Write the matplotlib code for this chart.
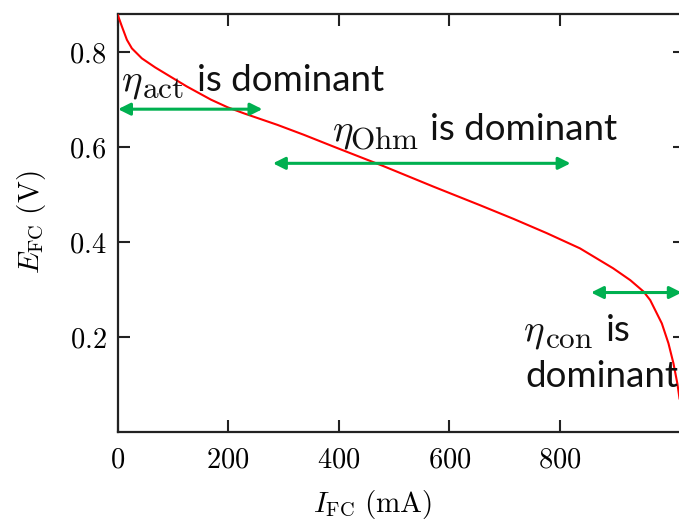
import matplotlib
matplotlib.use("Agg")
import matplotlib.pyplot as plt
from matplotlib.ticker import FuncFormatter

plt.rcParams['mathtext.fontset'] = 'cm'

# Polarization curve
current_mA = [0, 8, 17, 26, 44, 68, 95, 125, 169, 199, 229, 259, 289, 337, 391,
              481, 571, 655, 716, 776, 836, 896, 927, 951, 963, 969, 984, 996,
              1005, 1012, 1016]
voltage_V = [0.879, 0.853, 0.825, 0.807, 0.786, 0.767, 0.748, 0.727, 0.699, 0.683,
             0.670, 0.658, 0.646, 0.625, 0.600, 0.559, 0.516, 0.477, 0.448, 0.418,
             0.386, 0.344, 0.319, 0.295, 0.277, 0.263, 0.228, 0.186, 0.144, 0.102,
             0.070]

# Region arrows: (start current, end current, voltage)
arrow_act = (1, 262, 0.679)
arrow_ohm = (281, 819, 0.565)
arrow_con = (856, 1020, 0.293)

# Region labels: subscript, sentence text
region_subs = ['act', 'Ohm', 'con']
region_text = ['is dominant', 'is dominant', 'is']

x_ticks = [0, 200, 400, 600, 800]
y_ticks = [0.2, 0.4, 0.6, 0.8]

fig = plt.figure(figsize=(6.79, 5.27), dpi=100)
ax = fig.add_axes([117.5/679, (527-431.7)/527, 567/679, 418/527])

ax.plot(current_mA, voltage_V, color='#ff0000', lw=1.5, zorder=3)

green = '#00b050'
for (x0, x1, y) in (arrow_act, arrow_ohm, arrow_con):
    ax.annotate('', xy=(x1, y), xytext=(x0, y),
                arrowprops=dict(arrowstyle='<|-|>', color=green, lw=2.2,
                                mutation_scale=18, shrinkA=0, shrinkB=0),
                annotation_clip=False, zorder=4)

tcol = '#111111'
tfont = dict(family=['Lato', 'DejaVu Sans'], fontsize=26.5, color=tcol)
# label anchor positions (eta, subscript, text) in data coords
eta_pos = [(6.3, 0.718), (387.3, 0.614), (733.7, 0.1916)]
sub_pos = [(44.3, 0.7015), (420.4, 0.5966), (772.9, 0.1756)]
txt_pos = [(143.7, 0.718), (565.0, 0.614), (883.2, 0.1916)]
for sub, txt, ep, sp, tp in zip(region_subs, region_text, eta_pos, sub_pos, txt_pos):
    ax.text(ep[0], ep[1], r'$\eta$', ha='left', va='baseline', fontsize=28, color=tcol)
    ax.text(sp[0], sp[1], r'$\mathrm{%s}$' % sub, ha='left', va='baseline',
            fontsize=22.5, color=tcol)
    ax.text(tp[0], tp[1], txt, ha='left', va='baseline', **tfont)
ax.text(736.8, 0.0947, 'dominant', ha='left', va='baseline', **tfont)

ax.set_xlim(0, 1025)
ax.set_ylim(0, 0.88)
ax.set_xticks(x_ticks)
ax.set_yticks(y_ticks)
ax.xaxis.set_major_formatter(FuncFormatter(lambda v, p: f'${v:g}$'))
ax.yaxis.set_major_formatter(FuncFormatter(lambda v, p: f'${v:g}$'))
ax.tick_params(direction='in', length=8.5, width=1.5, top=True, right=True,
               labelsize=20.5, color='#222222')
ax.tick_params(axis='x', pad=10)
ax.tick_params(axis='y', pad=8)
for s in ax.spines.values():
    s.set_linewidth(1.6)
    s.set_color('#222222')

ax.set_xlabel(r'$I_{\mathrm{FC}}\ (\mathrm{mA})$', fontsize=21)
ax.set_ylabel(r'$E_{\mathrm{FC}}\ (\mathrm{V})$', fontsize=21)
ax.xaxis.set_label_coords((373-117.5)/567, -0.135)
ax.yaxis.set_label_coords(-0.122, 0.5)

fig.savefig('out.png', dpi=100)
